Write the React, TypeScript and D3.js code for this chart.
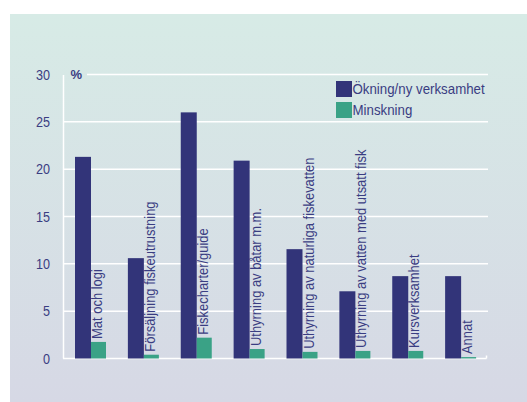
import React from "react";
import * as d3 from "d3";

const categories = [
  "Mat och logi",
  "Försäljning fiskeutrustning",
  "Fiskecharter/guide",
  "Uthyrning av båtar m.m.",
  "Uthyrning av naturliga fiskevatten",
  "Uthyrning av vatten med utsatt fisk",
  "Kursverksamhet",
  "Annat",
];
const increase = [21.3, 10.6, 26.0, 20.9, 11.55, 7.1, 8.7, 8.7];
const decrease = [1.75, 0.4, 2.2, 1.0, 0.7, 0.8, 0.8, 0.15];
const yTicks = [0, 5, 10, 15, 20, 25, 30];
const seriesNames = ["Ökning/ny verksamhet", "Minskning"];

const W = 527;
const H = 402;
const DARK = "#323479";
const GREEN = "#3aa286";
const TEXT = "#3a3d82";
const FONT = "Arial, 'Liberation Sans', sans-serif";

export default function App() {
  const x = d3.scaleBand<string>().domain(categories).range([63, 486]).paddingInner(0).paddingOuter(0);
  const y = d3.scaleLinear().domain([0, 30]).range([358.5, 74.5]);
  const darkOff = 12;
  const darkW = 16;
  const greenW = 15;

  return (
    <svg width={W} height={H} style={{ position: "absolute", left: 0, top: 0, display: "block" }}>
      <defs>
        <linearGradient id="bg" x1="0" y1="0" x2="0" y2="1">
          <stop offset="0" stopColor="#d7ebe6" />
          <stop offset="1" stopColor="#d6d8e5" />
        </linearGradient>
      </defs>
      <rect x={10} y={14} width={W - 10} height={H - 14} fill="url(#bg)" />

      {/* gridlines */}
      {yTicks.filter((t) => t > 0).map((t) => (
        <line key={t} x1={t === 30 ? 87 : 63} x2={488} y1={y(t)} y2={y(t)} stroke="#ffffff" strokeWidth={1.5} />
      ))}
      {/* axes */}
      <line x1={63.5} x2={63.5} y1={75} y2={y(0)} stroke="#ffffff" strokeWidth={1.5} />
      <line x1={63} x2={486.5} y1={y(0)} y2={y(0)} stroke="#ffffff" strokeWidth={1.5} />
      <line x1={486.5} x2={486.5} y1={y(0) - 3} y2={y(0)} stroke="#ffffff" strokeWidth={1.5} />

      {/* tick labels */}
      {yTicks.map((t) => (
        <text
          key={t}
          transform={`translate(50,${y(t)}) scale(0.9,1)`}
          dy="0.36em"
          textAnchor="end"
          fontFamily={FONT}
          fontSize={14}
          fill={TEXT}
        >
          {t}
        </text>
      ))}
      <text x={70.5} y={y(30)} dy="0.36em" fontFamily={FONT} fontSize={13} fontWeight="bold" fill={TEXT}>
        %
      </text>

      {/* bars */}
      {categories.map((c, i) => {
        const x0 = x(c)!;
        const dx = x0 + darkOff;
        const gx = dx + darkW;
        const gTop = y(decrease[i]);
        return (
          <g key={c}>
            <rect x={dx} y={y(increase[i])} width={darkW} height={y(0) - y(increase[i])} fill={DARK} />
            <rect x={gx} y={gTop} width={greenW} height={y(0) - gTop} fill={GREEN} />
            <text
              transform={`translate(${gx + 11},${gTop - 3}) rotate(-90) scale(0.925,1)`}
              fontFamily={FONT}
              fontSize={14}
              fill={TEXT}
            >
              {c}
            </text>
          </g>
        );
      })}

      {/* legend */}
      {seriesNames.map((s, i) => (
        <g key={s} transform={`translate(336,${81 + i * 21})`}>
          <rect x={0} y={0} width={16} height={16} fill={i === 0 ? DARK : GREEN} />
          <text
            transform={`translate(16.5,8) scale(0.95,1)`}
            dy="0.36em"
            fontFamily={FONT}
            fontSize={14}
            fill={TEXT}
          >
            {s}
          </text>
        </g>
      ))}
    </svg>
  );
}
